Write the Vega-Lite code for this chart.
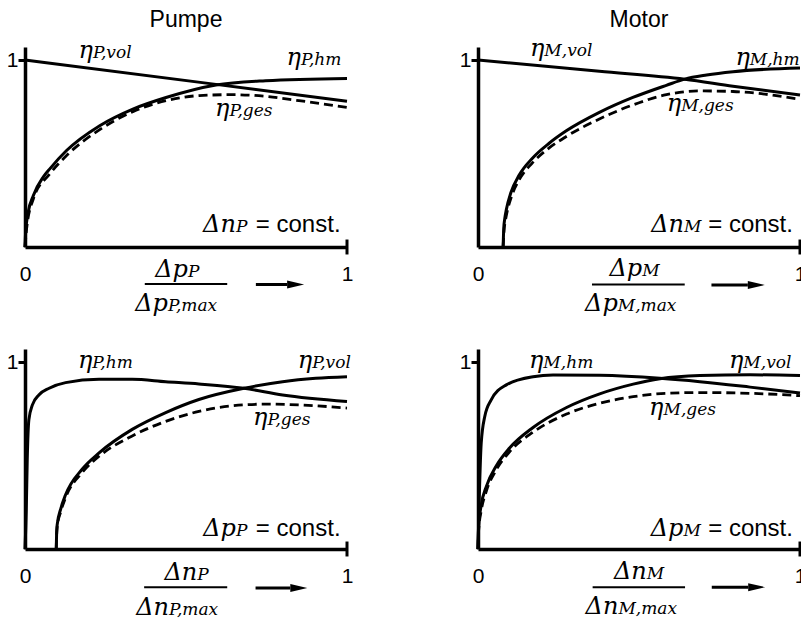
{
  "$schema": "https://vega.github.io/schema/vega-lite/v6.json",
  "background": "white",
  "padding": {"left": 6, "top": 9, "right": 0, "bottom": 0},
  "data": {"values": [
    {"r":1,"c":"Pumpe","k":"solid","s":"vol","x":0,"y":1.0},
    {"r":1,"c":"Pumpe","k":"solid","s":"vol","x":0.593,"y":0.87},
    {"r":1,"c":"Pumpe","k":"solid","s":"vol","x":1,"y":0.78},
    {"r":1,"c":"Pumpe","k":"solid","s":"hm","x":0,"y":0},
    {"r":1,"c":"Pumpe","k":"solid","s":"hm","x":0.002,"y":0.08},
    {"r":1,"c":"Pumpe","k":"solid","s":"hm","x":0.01,"y":0.187},
    {"r":1,"c":"Pumpe","k":"solid","s":"hm","x":0.026,"y":0.276},
    {"r":1,"c":"Pumpe","k":"solid","s":"hm","x":0.057,"y":0.375},
    {"r":1,"c":"Pumpe","k":"solid","s":"hm","x":0.077,"y":0.418},
    {"r":1,"c":"Pumpe","k":"solid","s":"hm","x":0.129,"y":0.516},
    {"r":1,"c":"Pumpe","k":"solid","s":"hm","x":0.232,"y":0.649},
    {"r":1,"c":"Pumpe","k":"solid","s":"hm","x":0.335,"y":0.738},
    {"r":1,"c":"Pumpe","k":"solid","s":"hm","x":0.438,"y":0.8},
    {"r":1,"c":"Pumpe","k":"solid","s":"hm","x":0.593,"y":0.867},
    {"r":1,"c":"Pumpe","k":"solid","s":"hm","x":0.747,"y":0.89},
    {"r":1,"c":"Pumpe","k":"solid","s":"hm","x":1,"y":0.902},
    {"r":1,"c":"Pumpe","k":"dash","s":"ges","x":0,"y":0},
    {"r":1,"c":"Pumpe","k":"dash","s":"ges","x":0.005,"y":0.098},
    {"r":1,"c":"Pumpe","k":"dash","s":"ges","x":0.026,"y":0.258},
    {"r":1,"c":"Pumpe","k":"dash","s":"ges","x":0.077,"y":0.391},
    {"r":1,"c":"Pumpe","k":"dash","s":"ges","x":0.129,"y":0.489},
    {"r":1,"c":"Pumpe","k":"dash","s":"ges","x":0.232,"y":0.628},
    {"r":1,"c":"Pumpe","k":"dash","s":"ges","x":0.335,"y":0.724},
    {"r":1,"c":"Pumpe","k":"dash","s":"ges","x":0.438,"y":0.783},
    {"r":1,"c":"Pumpe","k":"dash","s":"ges","x":0.541,"y":0.81},
    {"r":1,"c":"Pumpe","k":"dash","s":"ges","x":0.644,"y":0.815},
    {"r":1,"c":"Pumpe","k":"dash","s":"ges","x":0.747,"y":0.806},
    {"r":1,"c":"Pumpe","k":"dash","s":"ges","x":0.851,"y":0.783},
    {"r":1,"c":"Pumpe","k":"dash","s":"ges","x":1,"y":0.747},
    {"r":1,"c":"Pumpe","k":"lbl","a":"η","b":"P,vol","x":0.211,"y":1.009},
    {"r":1,"c":"Pumpe","k":"lbl","a":"η","b":"P,hm","x":0.857,"y":0.973},
    {"r":1,"c":"Pumpe","k":"lbl","a":"η","b":"P,ges","x":0.635,"y":0.7},
    {"r":1,"c":"Pumpe","k":"lbl","a":"Δn","b":"P","x":0.655,"y":0.079},
    {"r":1,"c":"Pumpe","k":"lbl","a":"Δp","b":"P","x":0.506,"y":-0.16},
    {"r":1,"c":"Pumpe","k":"lbl","a":"Δp","b":"P,max","x":0.444,"y":-0.34},
    {"r":1,"c":"Pumpe","k":"cst","t":"= const.","x":0.98,"y":0.079},
    {"r":1,"c":"Pumpe","k":"frac","x":0.372,"x2":0.628,"y":-0.198},
    {"r":1,"c":"Pumpe","k":"arr","x":0.717,"x2":0.814,"y":-0.2},
    {"r":1,"c":"Pumpe","k":"tk","x":1,"y":-0.04,"y2":0.04},

    {"r":1,"c":"Motor","k":"solid","s":"vol","x":0,"y":1.0},
    {"r":1,"c":"Motor","k":"solid","s":"vol","x":0.377,"y":0.94},
    {"r":1,"c":"Motor","k":"solid","s":"vol","x":0.642,"y":0.898},
    {"r":1,"c":"Motor","k":"solid","s":"vol","x":0.792,"y":0.86},
    {"r":1,"c":"Motor","k":"solid","s":"vol","x":1,"y":0.813},
    {"r":1,"c":"Motor","k":"solid","s":"hm","x":0.078,"y":0},
    {"r":1,"c":"Motor","k":"solid","s":"hm","x":0.08,"y":0.1},
    {"r":1,"c":"Motor","k":"solid","s":"hm","x":0.083,"y":0.15},
    {"r":1,"c":"Motor","k":"solid","s":"hm","x":0.088,"y":0.2},
    {"r":1,"c":"Motor","k":"solid","s":"hm","x":0.102,"y":0.29},
    {"r":1,"c":"Motor","k":"solid","s":"hm","x":0.128,"y":0.385},
    {"r":1,"c":"Motor","k":"solid","s":"hm","x":0.169,"y":0.475},
    {"r":1,"c":"Motor","k":"solid","s":"hm","x":0.221,"y":0.555},
    {"r":1,"c":"Motor","k":"solid","s":"hm","x":0.273,"y":0.62},
    {"r":1,"c":"Motor","k":"solid","s":"hm","x":0.377,"y":0.72},
    {"r":1,"c":"Motor","k":"solid","s":"hm","x":0.481,"y":0.8},
    {"r":1,"c":"Motor","k":"solid","s":"hm","x":0.585,"y":0.865},
    {"r":1,"c":"Motor","k":"solid","s":"hm","x":0.642,"y":0.898},
    {"r":1,"c":"Motor","k":"solid","s":"hm","x":0.71,"y":0.92},
    {"r":1,"c":"Motor","k":"solid","s":"hm","x":0.792,"y":0.938},
    {"r":1,"c":"Motor","k":"solid","s":"hm","x":1,"y":0.958},
    {"r":1,"c":"Motor","k":"dash","s":"ges","x":0.078,"y":0},
    {"r":1,"c":"Motor","k":"dash","s":"ges","x":0.081,"y":0.09},
    {"r":1,"c":"Motor","k":"dash","s":"ges","x":0.085,"y":0.14},
    {"r":1,"c":"Motor","k":"dash","s":"ges","x":0.09,"y":0.185},
    {"r":1,"c":"Motor","k":"dash","s":"ges","x":0.104,"y":0.27},
    {"r":1,"c":"Motor","k":"dash","s":"ges","x":0.128,"y":0.36},
    {"r":1,"c":"Motor","k":"dash","s":"ges","x":0.169,"y":0.45},
    {"r":1,"c":"Motor","k":"dash","s":"ges","x":0.221,"y":0.53},
    {"r":1,"c":"Motor","k":"dash","s":"ges","x":0.273,"y":0.59},
    {"r":1,"c":"Motor","k":"dash","s":"ges","x":0.377,"y":0.685},
    {"r":1,"c":"Motor","k":"dash","s":"ges","x":0.481,"y":0.76},
    {"r":1,"c":"Motor","k":"dash","s":"ges","x":0.585,"y":0.815},
    {"r":1,"c":"Motor","k":"dash","s":"ges","x":0.688,"y":0.835},
    {"r":1,"c":"Motor","k":"dash","s":"ges","x":0.792,"y":0.832},
    {"r":1,"c":"Motor","k":"dash","s":"ges","x":1,"y":0.79},
    {"r":1,"c":"Motor","k":"lbl","a":"η","b":"M,vol","x":0.206,"y":1.02},
    {"r":1,"c":"Motor","k":"lbl","a":"η","b":"M,hm","x":0.844,"y":0.973},
    {"r":1,"c":"Motor","k":"lbl","a":"η","b":"M,ges","x":0.631,"y":0.73},
    {"r":1,"c":"Motor","k":"lbl","a":"Δn","b":"M","x":0.64,"y":0.079},
    {"r":1,"c":"Motor","k":"lbl","a":"Δp","b":"M","x":0.51,"y":-0.153},
    {"r":1,"c":"Motor","k":"lbl","a":"Δp","b":"M,max","x":0.434,"y":-0.34},
    {"r":1,"c":"Motor","k":"cst","t":"= const.","x":0.978,"y":0.079},
    {"r":1,"c":"Motor","k":"frac","x":0.354,"x2":0.642,"y":-0.2},
    {"r":1,"c":"Motor","k":"arr","x":0.725,"x2":0.838,"y":-0.203},
    {"r":1,"c":"Motor","k":"tk","x":1,"y":-0.04,"y2":0.04},

    {"r":2,"c":"Pumpe","k":"solid","s":"hm","x":0,"y":0},
    {"r":2,"c":"Pumpe","k":"solid","s":"hm","x":0.004,"y":0.213},
    {"r":2,"c":"Pumpe","k":"solid","s":"hm","x":0.007,"y":0.479},
    {"r":2,"c":"Pumpe","k":"solid","s":"hm","x":0.012,"y":0.691},
    {"r":2,"c":"Pumpe","k":"solid","s":"hm","x":0.023,"y":0.771},
    {"r":2,"c":"Pumpe","k":"solid","s":"hm","x":0.043,"y":0.824},
    {"r":2,"c":"Pumpe","k":"solid","s":"hm","x":0.075,"y":0.86},
    {"r":2,"c":"Pumpe","k":"solid","s":"hm","x":0.126,"y":0.89},
    {"r":2,"c":"Pumpe","k":"solid","s":"hm","x":0.23,"y":0.908},
    {"r":2,"c":"Pumpe","k":"solid","s":"hm","x":0.333,"y":0.908},
    {"r":2,"c":"Pumpe","k":"solid","s":"hm","x":0.437,"y":0.895},
    {"r":2,"c":"Pumpe","k":"solid","s":"hm","x":0.54,"y":0.883},
    {"r":2,"c":"Pumpe","k":"solid","s":"hm","x":0.68,"y":0.86},
    {"r":2,"c":"Pumpe","k":"solid","s":"hm","x":0.8,"y":0.824},
    {"r":2,"c":"Pumpe","k":"solid","s":"hm","x":1,"y":0.789},
    {"r":2,"c":"Pumpe","k":"solid","s":"vol","x":0.097,"y":0},
    {"r":2,"c":"Pumpe","k":"solid","s":"vol","x":0.098,"y":0.07},
    {"r":2,"c":"Pumpe","k":"solid","s":"vol","x":0.1,"y":0.13},
    {"r":2,"c":"Pumpe","k":"solid","s":"vol","x":0.111,"y":0.215},
    {"r":2,"c":"Pumpe","k":"solid","s":"vol","x":0.126,"y":0.29},
    {"r":2,"c":"Pumpe","k":"solid","s":"vol","x":0.178,"y":0.428},
    {"r":2,"c":"Pumpe","k":"solid","s":"vol","x":0.23,"y":0.514},
    {"r":2,"c":"Pumpe","k":"solid","s":"vol","x":0.333,"y":0.64},
    {"r":2,"c":"Pumpe","k":"solid","s":"vol","x":0.437,"y":0.73},
    {"r":2,"c":"Pumpe","k":"solid","s":"vol","x":0.54,"y":0.8},
    {"r":2,"c":"Pumpe","k":"solid","s":"vol","x":0.68,"y":0.86},
    {"r":2,"c":"Pumpe","k":"solid","s":"vol","x":0.8,"y":0.895},
    {"r":2,"c":"Pumpe","k":"solid","s":"vol","x":0.903,"y":0.913},
    {"r":2,"c":"Pumpe","k":"solid","s":"vol","x":1,"y":0.922},
    {"r":2,"c":"Pumpe","k":"dash","s":"ges","x":0.097,"y":0},
    {"r":2,"c":"Pumpe","k":"dash","s":"ges","x":0.098,"y":0.065},
    {"r":2,"c":"Pumpe","k":"dash","s":"ges","x":0.1,"y":0.12},
    {"r":2,"c":"Pumpe","k":"dash","s":"ges","x":0.111,"y":0.2},
    {"r":2,"c":"Pumpe","k":"dash","s":"ges","x":0.126,"y":0.275},
    {"r":2,"c":"Pumpe","k":"dash","s":"ges","x":0.178,"y":0.41},
    {"r":2,"c":"Pumpe","k":"dash","s":"ges","x":0.23,"y":0.496},
    {"r":2,"c":"Pumpe","k":"dash","s":"ges","x":0.333,"y":0.605},
    {"r":2,"c":"Pumpe","k":"dash","s":"ges","x":0.437,"y":0.683},
    {"r":2,"c":"Pumpe","k":"dash","s":"ges","x":0.54,"y":0.736},
    {"r":2,"c":"Pumpe","k":"dash","s":"ges","x":0.644,"y":0.766},
    {"r":2,"c":"Pumpe","k":"dash","s":"ges","x":0.747,"y":0.775},
    {"r":2,"c":"Pumpe","k":"dash","s":"ges","x":0.851,"y":0.771},
    {"r":2,"c":"Pumpe","k":"dash","s":"ges","x":1,"y":0.754},
    {"r":2,"c":"Pumpe","k":"lbl","a":"η","b":"P,hm","x":0.209,"y":0.966},
    {"r":2,"c":"Pumpe","k":"lbl","a":"η","b":"P,vol","x":0.892,"y":0.966},
    {"r":2,"c":"Pumpe","k":"lbl","a":"η","b":"P,ges","x":0.753,"y":0.665},
    {"r":2,"c":"Pumpe","k":"lbl","a":"Δp","b":"P","x":0.655,"y":0.071},
    {"r":2,"c":"Pumpe","k":"lbl","a":"Δn","b":"P","x":0.535,"y":-0.168},
    {"r":2,"c":"Pumpe","k":"lbl","a":"Δn","b":"P,max","x":0.447,"y":-0.355},
    {"r":2,"c":"Pumpe","k":"cst","t":"= const.","x":0.98,"y":0.071},
    {"r":2,"c":"Pumpe","k":"frac","x":0.37,"x2":0.628,"y":-0.205},
    {"r":2,"c":"Pumpe","k":"arr","x":0.716,"x2":0.824,"y":-0.209},
    {"r":2,"c":"Pumpe","k":"tk","x":1,"y":-0.04,"y2":0.04},

    {"r":2,"c":"Motor","k":"solid","s":"hm","x":0,"y":0},
    {"r":2,"c":"Motor","k":"solid","s":"hm","x":0.003,"y":0.213},
    {"r":2,"c":"Motor","k":"solid","s":"hm","x":0.01,"y":0.567},
    {"r":2,"c":"Motor","k":"solid","s":"hm","x":0.021,"y":0.709},
    {"r":2,"c":"Motor","k":"solid","s":"hm","x":0.041,"y":0.798},
    {"r":2,"c":"Motor","k":"solid","s":"hm","x":0.088,"y":0.878},
    {"r":2,"c":"Motor","k":"solid","s":"hm","x":0.171,"y":0.922},
    {"r":2,"c":"Motor","k":"solid","s":"hm","x":0.233,"y":0.931},
    {"r":2,"c":"Motor","k":"solid","s":"hm","x":0.378,"y":0.929},
    {"r":2,"c":"Motor","k":"solid","s":"hm","x":0.565,"y":0.913},
    {"r":2,"c":"Motor","k":"solid","s":"hm","x":0.689,"y":0.895},
    {"r":2,"c":"Motor","k":"solid","s":"hm","x":0.845,"y":0.866},
    {"r":2,"c":"Motor","k":"solid","s":"hm","x":1,"y":0.835},
    {"r":2,"c":"Motor","k":"solid","s":"vol","x":0,"y":0},
    {"r":2,"c":"Motor","k":"solid","s":"vol","x":0.002,"y":0.12},
    {"r":2,"c":"Motor","k":"solid","s":"vol","x":0.01,"y":0.235},
    {"r":2,"c":"Motor","k":"solid","s":"vol","x":0.026,"y":0.335},
    {"r":2,"c":"Motor","k":"solid","s":"vol","x":0.057,"y":0.445},
    {"r":2,"c":"Motor","k":"solid","s":"vol","x":0.098,"y":0.54},
    {"r":2,"c":"Motor","k":"solid","s":"vol","x":0.171,"y":0.65},
    {"r":2,"c":"Motor","k":"solid","s":"vol","x":0.275,"y":0.757},
    {"r":2,"c":"Motor","k":"solid","s":"vol","x":0.378,"y":0.83},
    {"r":2,"c":"Motor","k":"solid","s":"vol","x":0.482,"y":0.882},
    {"r":2,"c":"Motor","k":"solid","s":"vol","x":0.565,"y":0.911},
    {"r":2,"c":"Motor","k":"solid","s":"vol","x":0.689,"y":0.928},
    {"r":2,"c":"Motor","k":"solid","s":"vol","x":0.845,"y":0.932},
    {"r":2,"c":"Motor","k":"solid","s":"vol","x":1,"y":0.928},
    {"r":2,"c":"Motor","k":"dash","s":"ges","x":0,"y":0},
    {"r":2,"c":"Motor","k":"dash","s":"ges","x":0.002,"y":0.1},
    {"r":2,"c":"Motor","k":"dash","s":"ges","x":0.01,"y":0.205},
    {"r":2,"c":"Motor","k":"dash","s":"ges","x":0.026,"y":0.31},
    {"r":2,"c":"Motor","k":"dash","s":"ges","x":0.057,"y":0.425},
    {"r":2,"c":"Motor","k":"dash","s":"ges","x":0.098,"y":0.52},
    {"r":2,"c":"Motor","k":"dash","s":"ges","x":0.171,"y":0.625},
    {"r":2,"c":"Motor","k":"dash","s":"ges","x":0.275,"y":0.722},
    {"r":2,"c":"Motor","k":"dash","s":"ges","x":0.378,"y":0.78},
    {"r":2,"c":"Motor","k":"dash","s":"ges","x":0.482,"y":0.815},
    {"r":2,"c":"Motor","k":"dash","s":"ges","x":0.585,"y":0.833},
    {"r":2,"c":"Motor","k":"dash","s":"ges","x":0.689,"y":0.837},
    {"r":2,"c":"Motor","k":"dash","s":"ges","x":0.845,"y":0.833},
    {"r":2,"c":"Motor","k":"dash","s":"ges","x":1,"y":0.82},
    {"r":2,"c":"Motor","k":"lbl","a":"η","b":"M,hm","x":0.203,"y":0.966},
    {"r":2,"c":"Motor","k":"lbl","a":"η","b":"M,vol","x":0.824,"y":0.966},
    {"r":2,"c":"Motor","k":"lbl","a":"η","b":"M,ges","x":0.576,"y":0.718},
    {"r":2,"c":"Motor","k":"lbl","a":"Δp","b":"M","x":0.638,"y":0.071},
    {"r":2,"c":"Motor","k":"lbl","a":"Δn","b":"M","x":0.524,"y":-0.16},
    {"r":2,"c":"Motor","k":"lbl","a":"Δn","b":"M,max","x":0.436,"y":-0.346},
    {"r":2,"c":"Motor","k":"cst","t":"= const.","x":0.978,"y":0.071},
    {"r":2,"c":"Motor","k":"frac","x":0.356,"x2":0.643,"y":-0.204},
    {"r":2,"c":"Motor","k":"arr","x":0.726,"x2":0.839,"y":-0.204},
    {"r":2,"c":"Motor","k":"tk","x":1,"y":-0.04,"y2":0.04}
  ]},
  "facet": {
    "row": {"field": "r", "type": "ordinal", "header": null},
    "column": {"field": "c", "type": "nominal", "sort": ["Pumpe", "Motor"],
      "header": {"title": null, "labelFont": "Liberation Sans", "labelFontSize": 23, "labelColor": "black", "labelPadding": -3, "labelBaseline": "alphabetic"}}
  },
  "spacing": {"row": 102, "column": 131},
  "bounds": "flush",
  "resolve": {"axis": {"x": "independent", "y": "independent"}},
  "spec": {
    "width": 322,
    "height": 200,
    "layer": [
      {
        "transform": [{"filter": "datum.k == 'solid'"}],
        "mark": {"type": "line", "interpolate": "monotone", "strokeWidth": 3, "color": "black"},
        "encoding": {
          "x": {"field": "x", "type": "quantitative", "title": null,
            "scale": {"domain": [0, 1], "nice": false, "zero": false},
            "axis": {"values": [0, 1], "format": "d", "ticks": false, "grid": false, "domainColor": "black", "domainWidth": 3.5,
              "labelFont": "Liberation Sans", "labelFontSize": 21, "labelColor": "black", "labelPadding": 16, "labelFlush": false, "labelBound": false}},
          "y": {"field": "y", "type": "quantitative", "title": null,
            "scale": {"domain": [0, 1.07], "nice": false, "zero": false},
            "axis": {"values": [1], "format": "d", "tickSize": 7, "tickWidth": 3, "tickColor": "black", "grid": false, "domainColor": "black", "domainWidth": 3.5,
              "labelFont": "Liberation Sans", "labelFontSize": 21, "labelColor": "black", "labelPadding": 0, "labelFlush": false}},
          "detail": {"field": "s"}
        }
      },
      {
        "transform": [{"filter": "datum.k == 'dash'"}],
        "mark": {"type": "line", "interpolate": "monotone", "strokeWidth": 2.8, "strokeDash": [9, 5], "color": "black"},
        "encoding": {
          "x": {"field": "x", "type": "quantitative", "title": null},
          "y": {"field": "y", "type": "quantitative", "title": null},
          "detail": {"field": "s"}
        }
      },
      {
        "transform": [{"filter": "datum.k == 'lbl'"}],
        "mark": {"type": "text", "font": "DejaVu Serif", "fontStyle": "italic", "fontSize": 24, "align": "right", "baseline": "alphabetic", "color": "black"},
        "encoding": {
          "x": {"field": "x", "type": "quantitative", "title": null},
          "y": {"field": "y", "type": "quantitative", "title": null},
          "text": {"field": "a"}
        }
      },
      {
        "transform": [{"filter": "datum.k == 'lbl'"}],
        "mark": {"type": "text", "font": "DejaVu Serif", "fontStyle": "italic", "fontSize": 17, "align": "left", "baseline": "alphabetic", "color": "black"},
        "encoding": {
          "x": {"field": "x", "type": "quantitative", "title": null},
          "y": {"field": "y", "type": "quantitative", "title": null},
          "text": {"field": "b"}
        }
      },
      {
        "transform": [{"filter": "datum.k == 'cst'"}],
        "mark": {"type": "text", "font": "Liberation Sans", "fontSize": 24, "align": "right", "baseline": "alphabetic", "color": "black"},
        "encoding": {
          "x": {"field": "x", "type": "quantitative", "title": null},
          "y": {"field": "y", "type": "quantitative", "title": null},
          "text": {"field": "t"}
        }
      },
      {
        "transform": [{"filter": "datum.k == 'frac'"}],
        "mark": {"type": "rule", "strokeWidth": 2, "color": "black"},
        "encoding": {
          "x": {"field": "x", "type": "quantitative", "title": null},
          "x2": {"field": "x2"},
          "y": {"field": "y", "type": "quantitative", "title": null}
        }
      },
      {
        "transform": [{"filter": "datum.k == 'arr'"}],
        "mark": {"type": "rule", "strokeWidth": 3, "color": "black"},
        "encoding": {
          "x": {"field": "x", "type": "quantitative", "title": null},
          "x2": {"field": "x2"},
          "y": {"field": "y", "type": "quantitative", "title": null}
        }
      },
      {
        "transform": [{"filter": "datum.k == 'arr'"}],
        "mark": {"type": "point", "shape": "M0,-0.47L2,0L0,0.47Z", "size": 289, "filled": true, "color": "black", "opacity": 1, "strokeWidth": 0},
        "encoding": {
          "x": {"field": "x2", "type": "quantitative", "title": null},
          "y": {"field": "y", "type": "quantitative", "title": null}
        }
      },
      {
        "transform": [{"filter": "datum.k == 'tk'"}],
        "mark": {"type": "rule", "strokeWidth": 3, "color": "black"},
        "encoding": {
          "x": {"field": "x", "type": "quantitative", "title": null},
          "y": {"field": "y", "type": "quantitative", "title": null},
          "y2": {"field": "y2"}
        }
      }
    ]
  },
  "config": {"view": {"stroke": null}, "font": "Liberation Sans"}
}
